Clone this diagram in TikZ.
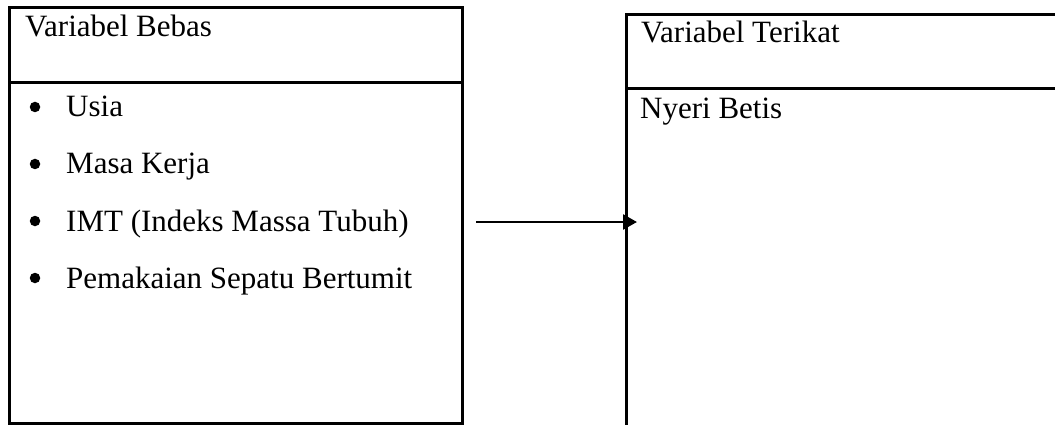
\documentclass[tikz,border=0pt]{standalone}
\usepackage{fontspec}
\setmainfont{Liberation Serif}
\usetikzlibrary{arrows.meta}
\begin{document}
\begin{tikzpicture}[x=1pt,y=-1pt,
  boxline/.style={line width=3pt, line cap=rect},
  frame/.style={draw, line width=3pt, inner sep=0pt, outer sep=0pt, anchor=north west},
  txt/.style={anchor=base west, inner sep=0pt, font=\fontsize{31}{37}\selectfont},
  bul/.style={circle, fill, inner sep=0pt, minimum size=10.5pt},
  conn/.style={line width=2.7pt, -{Triangle[length=14pt,width=15pt]}}]
\useasboundingbox (0,0) rectangle (1055,425);
\clip (0,0) rectangle (1055,425);
% left box
\node[frame, minimum width=453pt, minimum height=415pt] (lbox) at (9,8) {};
\draw[boxline] (lbox.west |- 0,83) -- (lbox.east |- 0,83);
\node[txt] (lhead) at (25,37) {Variabel Bebas};
\node[bul] (b1) at (35,107) {};
\node[txt] (i1) at (66,117) {Usia};
\node[bul] (b2) at (35,164) {};
\node[txt] (i2) at (66,174) {Masa Kerja};
\node[bul] (b3) at (35,221) {};
\node[txt] (i3) at (66,231) {IMT (Indeks Massa Tubuh)};
\node[bul] (b4) at (35,278) {};
\node[txt] (i4) at (66,288) {Pemakaian Sepatu Bertumit};
% right box (cut off by the page edge)
\node[frame, minimum width=500pt, minimum height=500pt] (rbox) at (626,15) {};
\draw[boxline] (rbox.west |- 0,89) -- (1060,89);
\node[txt] (rhead) at (641,43) {Variabel Terikat};
\node[txt] (rdep) at (640,119) {Nyeri Betis};
% connector
\coordinate (astart) at (476,222);
\coordinate (aend) at (637,222);
\draw[conn] (astart) -- (aend);
\end{tikzpicture}
\end{document}
